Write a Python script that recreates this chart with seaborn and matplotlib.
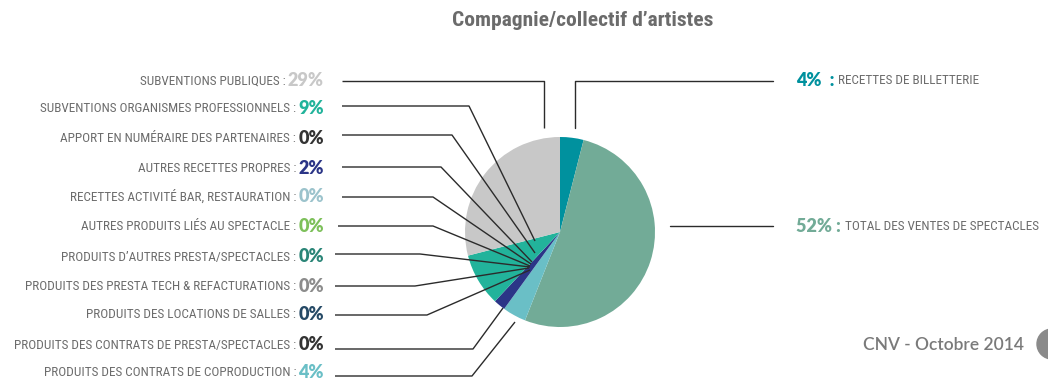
import matplotlib
matplotlib.use("Agg")
import matplotlib.pyplot as plt
from matplotlib import font_manager as fm
from matplotlib.patches import Circle
import seaborn as sns

# ---- data -------------------------------------------------------------
title = "Compagnie/collectif d\u2019artistes"
footer = "CNV - Octobre 2014"

# wedges, clockwise from 12 o'clock
categories = [
    "RECETTES DE BILLETTERIE",
    "TOTAL DES VENTES DE SPECTACLES",
    "PRODUITS DES CONTRATS DE COPRODUCTION",
    "PRODUITS DES CONTRATS DE PRESTA/SPECTACLES",
    "PRODUITS DES LOCATIONS DE SALLES",
    "PRODUITS DES PRESTA TECH & REFACTURATIONS",
    "PRODUITS D\u2019AUTRES PRESTA/SPECTACLES",
    "AUTRES PRODUITS LI\u00c9S AU SPECTACLE",
    "RECETTES ACTIVIT\u00c9 BAR, RESTAURATION",
    "AUTRES RECETTES PROPRES",
    "APPORT EN NUM\u00c9RAIRE DES PARTENAIRES",
    "SUBVENTIONS ORGANISMES PROFESSIONNELS",
    "SUBVENTIONS PUBLIQUES",
]
values = [4, 52, 4, 0, 0, 0, 0, 0, 0, 2, 0, 9, 29]

# left-hand labels, top to bottom
left_labels = [
    "SUBVENTIONS PUBLIQUES",
    "SUBVENTIONS ORGANISMES PROFESSIONNELS",
    "APPORT EN NUM\u00c9RAIRE DES PARTENAIRES",
    "AUTRES RECETTES PROPRES",
    "RECETTES ACTIVIT\u00c9 BAR, RESTAURATION",
    "AUTRES PRODUITS LI\u00c9S AU SPECTACLE",
    "PRODUITS D\u2019AUTRES PRESTA/SPECTACLES",
    "PRODUITS DES PRESTA TECH & REFACTURATIONS",
    "PRODUITS DES LOCATIONS DE SALLES",
    "PRODUITS DES CONTRATS DE PRESTA/SPECTACLES",
    "PRODUITS DES CONTRATS DE COPRODUCTION",
]
right_labels = ["RECETTES DE BILLETTERIE", "TOTAL DES VENTES DE SPECTACLES"]

# ---- styling ----------------------------------------------------------
palette = {
    "RECETTES DE BILLETTERIE": "#00919E",
    "TOTAL DES VENTES DE SPECTACLES": "#72AB97",
    "PRODUITS DES CONTRATS DE COPRODUCTION": "#6ABFC6",
    "PRODUITS DES CONTRATS DE PRESTA/SPECTACLES": "#333333",
    "PRODUITS DES LOCATIONS DE SALLES": "#264A66",
    "PRODUITS DES PRESTA TECH & REFACTURATIONS": "#8C8C8C",
    "PRODUITS D\u2019AUTRES PRESTA/SPECTACLES": "#2A8577",
    "AUTRES PRODUITS LI\u00c9S AU SPECTACLE": "#7DC05A",
    "RECETTES ACTIVIT\u00c9 BAR, RESTAURATION": "#9CC3CC",
    "AUTRES RECETTES PROPRES": "#2B3587",
    "APPORT EN NUM\u00c9RAIRE DES PARTENAIRES": "#333333",
    "SUBVENTIONS ORGANISMES PROFESSIONNELS": "#22B39B",
    "SUBVENTIONS PUBLIQUES": "#C8C8C8",
}
TEXT_GREY = "#6c6c6c"
LINE = "#2b2b2b"

sns.set_theme(style="white")

W, H = 1048, 380
fig = plt.figure(figsize=(W / 100, H / 100), dpi=100)
ax = fig.add_axes([0, 0, 1, 1])
renderer = fig.canvas.get_renderer()


def Y(py):
    """Top-down pixel row -> data y."""
    return H - py


# ---- fonts ------------------------------------------------------------
def as_weight(w):
    if isinstance(w, str):
        return fm.weight_dict.get(w, 400)
    return int(w)


def find_font(lo, hi, prefer_condensed=True):
    entries = [f for f in fm.fontManager.ttflist
               if f.style == "normal" and lo <= as_weight(f.weight) <= hi]
    if prefer_condensed:
        cond = [f for f in entries
                if f.stretch in ("condensed", "semi-condensed", "extra-condensed")
                or "Condensed" in f.name or "Narrow" in f.name]
        for fam in ("Roboto Condensed", "Liberation Sans Narrow", "DejaVu Sans Condensed",
                    "Noto Sans", "Open Sans"):
            for f in cond:
                if f.name == fam:
                    return fm.FontProperties(fname=f.fname)
        if cond:
            return fm.FontProperties(fname=cond[0].fname)
    for fam in ("Roboto", "Liberation Sans", "DejaVu Sans"):
        for f in entries:
            if f.name == fam:
                return fm.FontProperties(fname=f.fname)
    return fm.FontProperties(family="DejaVu Sans")


label_fp = find_font(300, 450)
title_fp = find_font(600, 800)
num_fp = fm.FontProperties(family=["Lato", "DejaVu Sans"], weight="heavy")
foot_fp = fm.FontProperties(family=["Lato", "DejaVu Sans"], weight="semibold")


def fitted(fp, text, target_px):
    """Scale a font so that `text` spans target_px pixels."""
    probe = fp.copy()
    probe.set_size(20)
    w, _, _ = renderer.get_text_width_height_descent(text, probe, ismath=False)
    out = fp.copy()
    out.set_size(20 * target_px / w)
    return out


label_fp = fitted(label_fp, "SUBVENTIONS ORGANISMES PROFESSIONNELS :", 259)
title_fp = fitted(title_fp, title, 260)
num_fp.set_size(13)
foot_fp.set_size(12.5)

# ---- pie --------------------------------------------------------------
cx, cy, r = 560, 232, 95
ax.pie(values, colors=[palette[c] for c in categories], startangle=90,
       counterclock=False, center=(cx, Y(cy)), radius=r,
       wedgeprops=dict(linewidth=0))
ax.set_xlim(0, W)
ax.set_ylim(0, H)
ax.set_aspect("equal")
ax.axis("off")

# ---- left labels with leader lines ------------------------------------
text_rows = [81, 109, 138, 168, 197, 227, 257, 286, 315, 345, 373]
line_rows = [81, 106, 135, 167, 197, 226, 254, 286, 315, 349, 376]
line_x0 = [342, 342, 342, 342, 342, 338, 335, 335, 335, 335, 335]
elbow_x = [544, 469, 452, 441, 433, 433, 420, 415, 427, 473, 472]
ends = [(544, 128), (535, 241), (535, 253), (532, 262), (531, 264), (530, 266),
        (530, 267), (529, 268), (530, 270), (503, 308), (515, 322)]

num_right = 324
for lab, ty, ly, x0, ex, (tx, tyy) in zip(left_labels, text_rows, line_rows,
                                         line_x0, elbow_x, ends):
    v = values[categories.index(lab)]
    pct = ax.text(num_right, Y(ty), f"{v}%", ha="right", va="center",
                  color=palette[lab], fontproperties=num_fp)
    bb = pct.get_window_extent(renderer)
    ax.text(bb.x0 - 2, Y(ty), f"{lab} :", ha="right", va="center",
            color=TEXT_GREY, fontproperties=label_fp)
    ax.plot([x0, ex, tx], [Y(ly), Y(ly), Y(tyy)], color=LINE, lw=1.0,
            solid_capstyle="butt")

# ---- right labels -----------------------------------------------------
right_rows = [81, 226]
right_paths = [[(773, 81), (575, 81), (575, 128)], [(773, 226), (670, 226)]]
for lab, ty, path in zip(right_labels, right_rows, right_paths):
    v = values[categories.index(lab)]
    col = palette[lab]
    pct = ax.text(796, Y(ty), f"{v}%" + ("  :" if v < 10 else " :"),
                  ha="left", va="center", color=col, fontproperties=num_fp)
    bb = pct.get_window_extent(renderer)
    ax.text(bb.x1 + 4, Y(ty), lab, ha="left", va="center",
            color=TEXT_GREY, fontproperties=label_fp)
    xs, ys = zip(*path)
    ax.plot(xs, [Y(y) for y in ys], color=LINE, lw=1.0)

# ---- title and footer -------------------------------------------------
ax.text(583, Y(20), title, ha="center", va="center", color="#6b6b6b",
        fontproperties=title_fp)
ax.text(1024, Y(345), footer, ha="right", va="center", color="#7a7a7a",
        fontproperties=foot_fp)
ax.add_patch(Circle((1052, Y(344)), 15, color="#8a8a8a", clip_on=True))

fig.savefig("out.png", dpi=100)
